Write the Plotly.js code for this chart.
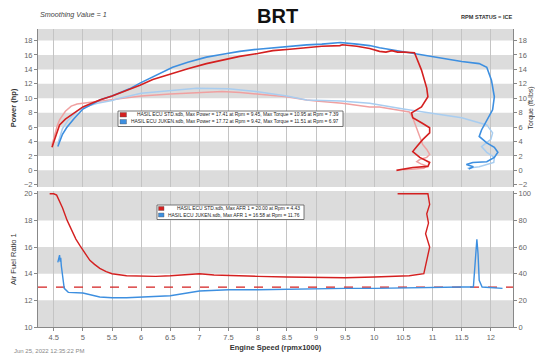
<!DOCTYPE html>
<html>
<head>
<meta charset="utf-8">
<script src="https://cdn.plot.ly/plotly-3.0.1.min.js"></script>
<style>html,body{margin:0;padding:0;background:#fff;}#chart{width:535px;height:354px;}</style>
</head>
<body>
<div id="chart"></div>
<script>
// ---------- data ----------
const xTicks = [4.5,5,5.5,6,6.5,7,7.5,8,8.5,9,9.5,10,10.5,11,11.5,12];
const xTickLabels = ["4.5","5","5.5","6","6.5","7","7.5","8","8.5","9","9.5","10","10.5","11","11.5","12"];

const rpmStdPower = [4.47,4.52,4.56,4.6,4.7,4.8,4.9,5.0,5.15,5.3,5.5,5.63,5.8,5.98,6.2,6.54,6.8,7.12,7.4,7.69,8.0,8.26,8.55,8.84,9.1,9.41,9.45,9.7,9.92,10.09,10.2,10.3,10.4,10.5,10.69,10.81,10.9,10.92,10.81,10.64,10.66,10.81,10.95,10.95,10.83,10.73,10.66,10.78,10.95,10.92,10.66,10.38];
const powerStd = [3.2,4.5,5.6,6.3,7.1,7.7,8.3,8.8,9.3,9.8,10.3,10.7,11.2,11.8,12.6,13.5,14.1,14.8,15.3,15.8,16.2,16.6,16.8,17.0,17.2,17.3,17.41,17.2,16.9,16.5,16.4,16.6,16.4,16.4,16.3,13.9,11.4,10.2,8.8,7.97,7.3,6.6,5.9,5.2,4.26,3.3,2.6,1.8,1.1,0.55,0.4,0.0];

const rpmJukenPower = [4.57,4.61,4.65,4.72,4.85,5.0,5.15,5.3,5.5,5.63,5.8,5.98,6.2,6.54,6.8,7.12,7.4,7.69,8.0,8.26,8.55,8.84,9.1,9.42,9.7,9.92,10.09,10.38,10.66,10.95,11.24,11.5,11.8,11.93,12.01,12.06,12.03,11.94,11.84,11.8,11.93,12.06,12.12,12.06,11.93,11.69,11.58,11.7,11.62];
const powerJuken = [3.3,4.3,5.0,5.9,7.2,8.5,9.2,9.8,10.3,10.7,11.3,12.1,13.0,14.3,15.0,15.7,16.1,16.5,16.8,17.0,17.2,17.4,17.5,17.72,17.5,17.3,17.0,16.6,16.2,15.8,15.4,15.1,14.8,14.3,12.5,10.2,8.4,7.0,5.6,4.7,3.8,3.2,2.5,1.8,1.2,1.1,0.8,0.5,0.2];

const rpmStdTorque = [4.47,4.52,4.56,4.6,4.7,4.8,4.9,5.0,5.2,5.5,5.8,6.0,6.5,7.0,7.12,7.39,7.7,8.0,8.5,8.84,9.0,9.45,9.92,10.09,10.3,10.6,10.66,10.72,10.78,10.83,10.9,10.95,10.9,10.78,10.73,10.8,10.9,10.85,10.7,10.5];
const torqueStd = [3.5,5.0,6.2,7.0,8.2,8.9,9.2,9.3,9.5,9.8,10.1,10.3,10.6,10.8,10.85,10.95,10.8,10.6,10.2,9.75,9.6,9.3,8.8,8.8,8.5,8.1,7.3,6.0,4.7,3.6,2.9,2.2,1.8,1.5,1.2,0.9,0.6,0.3,0.2,0.1];

const rpmJukenTorque = [4.57,4.61,4.65,4.75,4.9,5.0,5.25,5.5,5.63,6.0,6.5,6.95,7.5,8.0,8.5,8.84,9.42,9.92,10.5,10.95,11.5,11.93,12.03,12.0,11.84,11.93,12.06,12.05,11.8,11.6];
const torqueJuken = [3.7,4.8,5.8,7.0,8.2,8.7,9.3,9.7,10.0,10.7,11.1,11.4,11.3,10.9,10.3,9.75,9.6,9.3,8.5,8.0,7.3,6.3,5.2,4.3,3.3,2.5,1.8,1.1,0.5,0.3];

const rpmStdAfr = [4.43,4.5,4.55,4.65,4.73,4.81,4.88,4.95,5.05,5.12,5.2,5.29,5.4,5.5,5.75,6.0,6.25,6.5,6.75,7.0,7.25,7.5,7.75,8.0,8.5,9.0,9.5,10.0,10.3,10.6,10.85,10.9,10.95,10.88,10.93,10.9,10.95,10.92,10.8,10.6,10.4];
const afrStd = [20,20,19.9,18.95,18.0,17.2,16.6,16.1,15.5,15.0,14.7,14.4,14.15,14.0,13.85,13.8,13.8,13.85,13.9,14.0,13.9,13.85,13.8,13.8,13.75,13.7,13.7,13.75,13.8,13.85,14.0,15.0,16.0,17.0,17.8,18.5,19.2,20.0,20.0,20.0,20.0];

const rpmJukenAfr = [4.57,4.59,4.6,4.61,4.62,4.63,4.65,4.68,4.75,5.0,5.29,5.5,5.75,6.0,6.5,7.0,7.5,8.0,8.5,9.0,9.5,10.0,10.5,11.0,11.5,11.7,11.74,11.76,11.78,11.8,11.85,12.0,12.1,12.2];
const afrJuken = [14.85,15.2,15.4,14.9,15.2,14.6,13.7,12.9,12.6,12.55,12.25,12.2,12.2,12.25,12.35,12.7,12.8,12.8,12.85,12.9,12.9,12.9,12.95,12.95,13.0,13.0,15.0,16.58,15.5,13.5,13.0,12.95,12.9,12.9];

const afrTargetRpm = [4.23,12.38];
const afrTarget = [13,13];

const legendStd = "HASIL ECU STD.sdb, Max Power = 17.41 at Rpm = 9.45, Max Torque = 10.95 at Rpm = 7.39";
const legendJuken = "HASIL ECU JUKEN.sdb, Max Power = 17.72 at Rpm = 9.42, Max Torque = 11.51 at Rpm = 6.97";
const legendStdAfr = "HASIL ECU STD.sdb, Max AFR 1 = 20.00 at Rpm = 4.43";
const legendJukenAfr = "HASIL ECU JUKEN.sdb, Max AFR 1 = 16.58 at Rpm = 11.76";

// ---------- styles ----------
const RED = '#d42020', BLUE = '#3d8fe0', LRED = '#f0a0a0', LBLUE = '#a8cdf0';
const FONT = 'Liberation Sans, Arial, sans-serif';
const XR = [4.23, 12.38];
const W = 535, H = 354, ML = 38, MR = 22, MT = 29, MB = 27;
const PW = W - ML - MR, PH = H - MT - MB;
const px = v => (v - ML) / PW;          // pixel x -> paper
const py = v => (H - MB - v) / PH;      // pixel y -> paper

const traces = [
  {x: rpmStdTorque, y: torqueStd, xaxis:'x', yaxis:'y', mode:'lines', name:'STD torque', line:{color:LRED,width:1.5}, showlegend:false},
  {x: rpmJukenTorque, y: torqueJuken, xaxis:'x', yaxis:'y', mode:'lines', name:'JUKEN torque', line:{color:LBLUE,width:1.5}, showlegend:false},
  {x: rpmJukenPower, y: powerJuken, xaxis:'x', yaxis:'y', mode:'lines', name:'JUKEN power', line:{color:BLUE,width:1.6}, showlegend:false},
  {x: rpmStdPower, y: powerStd, xaxis:'x', yaxis:'y', mode:'lines', name:'STD power', line:{color:RED,width:1.6}, showlegend:false},
  {x: afrTargetRpm, y: afrTarget, xaxis:'x', yaxis:'y3', mode:'lines', name:'AFR target', line:{color:RED,width:1.3,dash:'dash'}, showlegend:false},
  {x: rpmStdAfr, y: afrStd, xaxis:'x', yaxis:'y3', mode:'lines', name:'STD AFR', line:{color:RED,width:1.4}, showlegend:false},
  {x: rpmJukenAfr, y: afrJuken, xaxis:'x', yaxis:'y3', mode:'lines', name:'JUKEN AFR', line:{color:BLUE,width:1.4}, showlegend:false},
  {x:[null], y:[null], xaxis:'x', yaxis:'y2', mode:'lines', showlegend:false, hoverinfo:'skip'},
  {x:[null], y:[null], xaxis:'x', yaxis:'y4', mode:'lines', showlegend:false, hoverinfo:'skip'}
];

const band = '#dcdcdc';
function bandShape(yref, y0, y1){
  return {type:'rect', xref:'x', yref:yref, x0:XR[0], x1:XR[1], y0:y0, y1:y1, fillcolor:band, line:{width:0}, layer:'below'};
}
function pRect(x0, y0, x1, y1, fill, lc, lw){
  return {type:'rect', xref:'paper', yref:'paper', x0:px(x0), x1:px(x1), y0:py(y1), y1:py(y0), fillcolor:fill, line:{color:lc, width:lw}, layer:'above'};
}
const shapes = [
  bandShape('y',18,19.6), bandShape('y',14,16), bandShape('y',10,12), bandShape('y',6,8), bandShape('y',2,4), bandShape('y',-2.3,0),
  bandShape('y3',18,20.2), bandShape('y3',14,16), bandShape('y3',10,12),
  // legend boxes (top)
  pRect(118,111,343,126.5,'#fff','#555',0.8),
  pRect(120,112.5,126.5,117,RED,'#555',0.4),
  pRect(120,119.5,126.5,124,BLUE,'#555',0.4),
  // legend boxes (bottom)
  pRect(157,205,304,219.5,'#fff','#555',0.8),
  pRect(158.5,206.5,164,210.5,RED,'#555',0.4),
  pRect(158.5,213,164,217,BLUE,'#555',0.4)
];

const tickFont = {family:FONT, size:7.5, color:'#666'};
const axBase = {showline:true, linecolor:'#888', linewidth:1, ticks:'outside', ticklen:3, tickcolor:'#888', tickfont:tickFont, zeroline:false};

function legText(t, xr, yc, size){
  return {text:t, xref:'paper', yref:'paper', x:px(xr), y:py(yc), xanchor:'right', yanchor:'middle', showarrow:false, font:{family:FONT,size:size,color:'#222'}};
}

const layout = {
  width:W, height:H,
  margin:{l:ML, r:MR, t:MT, b:MB},
  paper_bgcolor:'#fff', plot_bgcolor:'#fff',
  font:{family:FONT},
  showlegend:false,
  xaxis: Object.assign({}, axBase, {range:XR, anchor:'y3', tickvals:xTicks, ticktext:xTickLabels, showgrid:true, gridcolor:'#c4c4c4', gridwidth:1,
    title:{text:'<b>Engine Speed (rpmx1000)</b>', font:{family:FONT,size:7.5,color:'#333'}, standoff:3}}),
  yaxis: Object.assign({}, axBase, {domain:[0.47,1], range:[-2.3,19.6], anchor:'x', tickvals:[-2,0,2,4,6,8,10,12,14,16,18], showgrid:false,
    title:{text:'<b>Power (hp)</b>', font:{family:FONT,size:7.5,color:'#333'}, standoff:6}}),
  yaxis2: Object.assign({}, axBase, {domain:[0.47,1], range:[-2.3,19.6], overlaying:'y', side:'right', anchor:'x', tickvals:[-2,0,2,4,6,8,10,12,14,16,18], showgrid:false,
    title:{text:'Torque (ft-lbs)', font:{family:FONT,size:7,color:'#333'}, standoff:4}}),
  yaxis3: Object.assign({}, axBase, {domain:[0,0.456], range:[10,20.2], anchor:'x', tickvals:[10,12,14,16,18,20], showgrid:false,
    title:{text:'Air Fuel Ratio 1', font:{family:FONT,size:7.5,color:'#333'}, standoff:6}}),
  yaxis4: Object.assign({}, axBase, {domain:[0,0.456], range:[0,102], overlaying:'y3', side:'right', anchor:'x', tickvals:[0,20,40,60,80,100], showgrid:false}),
  shapes: shapes,
  annotations:[
    {text:'<i>Smoothing Value = 1</i>', xref:'paper', yref:'paper', x:px(38), y:py(15), xanchor:'left', yanchor:'middle', showarrow:false, font:{family:FONT,size:7.2,color:'#444'}},
    {text:'<b>BRT</b>', xref:'paper', yref:'paper', x:px(277), y:py(16), xanchor:'center', yanchor:'middle', showarrow:false, font:{family:FONT,size:20,color:'#111'}},
    {text:'<b>RPM STATUS = ICE</b>', xref:'paper', yref:'paper', x:px(514), y:py(17), xanchor:'right', yanchor:'middle', showarrow:false, font:{family:FONT,size:5.6,color:'#333'}},
    {text:'Jun 25, 2022 12:35:22 PM', xref:'paper', yref:'paper', x:px(12), y:py(351), xanchor:'left', yanchor:'middle', showarrow:false, font:{family:FONT,size:6,color:'#888'}},
    legText(legendStd, 341, 114.8, 4.9),
    legText(legendJuken, 341, 121.8, 4.9),
    legText(legendStdAfr, 302, 208.6, 4.9),
    legText(legendJukenAfr, 302, 215.1, 4.9)
  ]
};

Plotly.newPlot('chart', traces, layout, {displayModeBar:false, staticPlot:true});
</script>
</body>
</html>
